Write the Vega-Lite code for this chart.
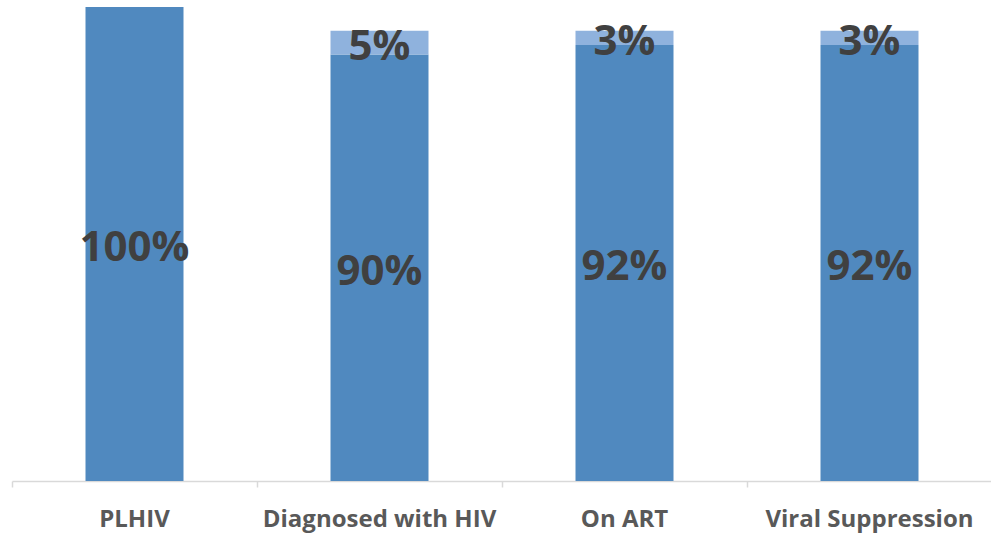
{
  "$schema": "https://vega.github.io/schema/vega-lite/v6.json",
  "width": 980,
  "height": 474,
  "autosize": {"type": "none"},
  "padding": {"left": 12, "top": 7, "right": 0, "bottom": 55},
  "background": "white",
  "config": {"view": {"stroke": null}},
  "data": {
    "values": [
      {"stage": "PLHIV", "part": "a", "ord": 1, "value": 100, "label": "100%"},
      {"stage": "Diagnosed with HIV", "part": "a", "ord": 1, "value": 90, "label": "90%"},
      {"stage": "Diagnosed with HIV", "part": "b", "ord": 2, "value": 5, "label": "5%"},
      {"stage": "On ART", "part": "a", "ord": 1, "value": 92, "label": "92%"},
      {"stage": "On ART", "part": "b", "ord": 2, "value": 3, "label": "3%"},
      {"stage": "Viral Suppression", "part": "a", "ord": 1, "value": 92, "label": "92%"},
      {"stage": "Viral Suppression", "part": "b", "ord": 2, "value": 3, "label": "3%"}
    ]
  },
  "encoding": {
    "x": {
      "field": "stage",
      "type": "nominal",
      "sort": null,
      "scale": {"paddingInner": 0, "paddingOuter": 0},
      "axis": {
        "title": null,
        "labelAngle": 0,
        "labelFont": "Open Sans",
        "labelFontWeight": "bold",
        "labelFontSize": 24,
        "labelLimit": 0,
        "labelColor": "#595959",
        "labelPadding": 20,
        "domainColor": "#D9D9D9",
        "domainWidth": 1.5,
        "tickColor": "#D9D9D9",
        "tickWidth": 1.5,
        "tickSize": 6,
        "bandPosition": 0
      }
    }
  },
  "layer": [
    {
      "mark": {"type": "bar", "size": 98},
      "encoding": {
        "y": {
          "field": "value",
          "type": "quantitative",
          "stack": "zero",
          "scale": {"domain": [0, 100], "nice": false},
          "axis": null
        },
        "order": {"field": "ord"},
        "color": {
          "field": "part",
          "type": "nominal",
          "scale": {"domain": ["a", "b"], "range": ["#5089BF", "#8FB2DD"]},
          "legend": null
        }
      }
    },
    {
      "mark": {"type": "text", "font": "Open Sans", "fontWeight": "bold", "fontSize": 42, "color": "#404040", "baseline": "middle", "align": "center", "dy": 4},
      "encoding": {
        "y": {
          "field": "value",
          "type": "quantitative",
          "stack": "zero",
          "bandPosition": 0.5
        },
        "order": {"field": "ord"},
        "text": {"field": "label"}
      }
    }
  ]
}
